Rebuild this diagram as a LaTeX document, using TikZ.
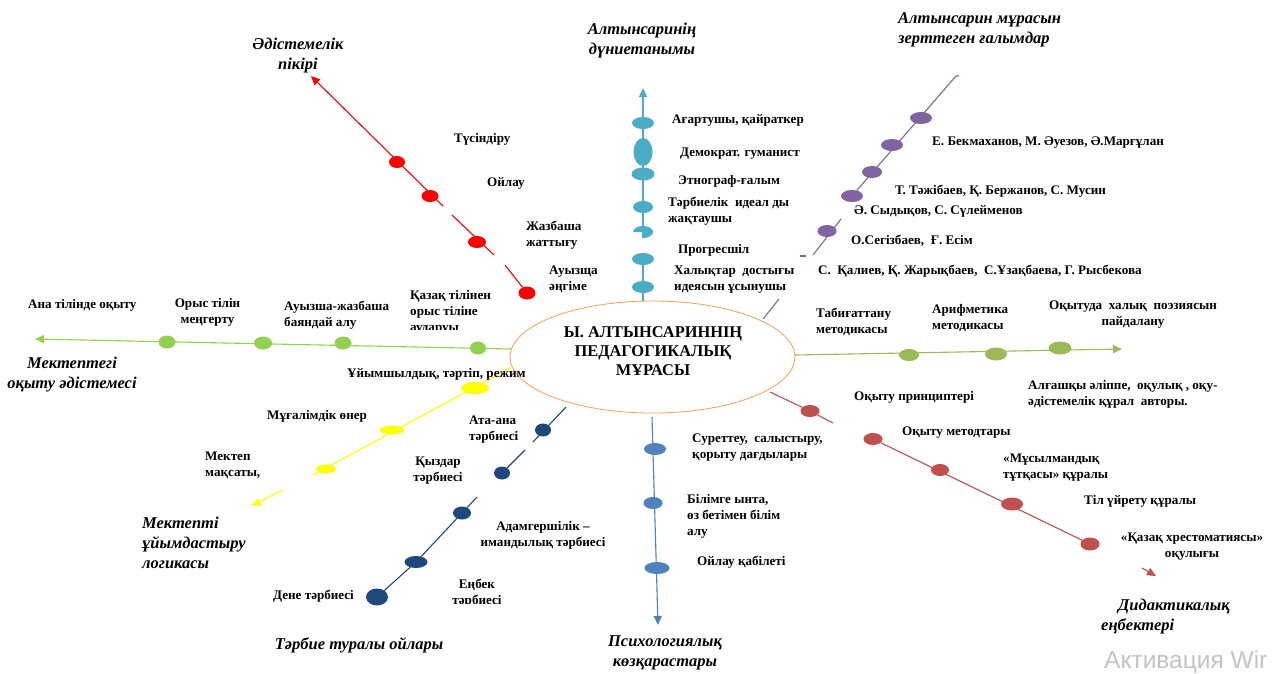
\documentclass[tikz,border=0pt]{standalone}
\usepackage{fontspec}
\setmainfont{Liberation Serif}
\newfontfamily\wmfamily{Liberation Sans}
\usetikzlibrary{shapes.geometric,arrows.meta}
\definecolor{cyn}{HTML}{4BACC6}
\definecolor{rd}{HTML}{FF0000}
\definecolor{prp}{HTML}{8064A2}
\definecolor{grl}{HTML}{92D050}
\definecolor{grr}{HTML}{9BBB59}
\definecolor{rbr}{HTML}{C0504D}
\definecolor{lbl}{HTML}{4F81BD}
\definecolor{dbl}{HTML}{1F497D}
\definecolor{ylw}{HTML}{FFFF00}
\definecolor{org}{HTML}{F5A05E}
\definecolor{wmgray}{HTML}{C4C4C4}
\newcommand\lblfont{\fontsize{13.1}{16}\selectfont\bfseries}
\newcommand\ttlfont{\fontsize{16.5}{20}\selectfont\bfseries\itshape}
\newcommand\ctrfont{\fontsize{16.4}{19}\selectfont\bfseries}
\tikzset{
  dot/.style={ellipse, inner sep=0pt, outer sep=0pt},
  dsz/.style n args={2}{minimum width=#1pt, minimum height=#2pt},
  lab/.style={font=\lblfont, inner sep=0pt, anchor=west, align=left},
  labc/.style={font=\lblfont, inner sep=0pt, align=center},
  ttl/.style={font=\ttlfont, inner sep=0pt, align=center},
  ttll/.style={font=\ttlfont, inner sep=0pt, align=left, anchor=west},
  ln/.style={line width=1.1pt},
  arr/.style={ln, -{Triangle[length=9pt,width=8pt]}},
}
\begin{document}
\begin{tikzpicture}[x=1pt,y=-1pt]
\useasboundingbox[fill=white] (0,0) rectangle (1279,673);

% ---------- centre ----------
\node[ellipse, draw=org, line width=0.8pt, minimum width=285pt, minimum height=112pt, inner sep=0pt] (her) at (652.5,357) {};
\node[font=\ctrfont, align=center, inner sep=0pt] (hertext) at (653,351) {Ы. АЛТЫНСАРИННІҢ\\ПЕДАГОГИКАЛЫҚ\\МҰРАСЫ};

% ---------- cyan (top) ----------
\node[dot, fill=cyn, dsz={22}{12}] (c1) at (643,123) {};
\node[dot, fill=cyn, dsz={19}{28}] (c2) at (643,152) {};
\node[dot, fill=cyn, dsz={23}{13}] (c3) at (643,174) {};
\node[dot, fill=cyn, dsz={20}{12}] (c4) at (643,207) {};
\coordinate (c5) at (643,232);
\fill[cyn] (c5) -- ++(-10,0) arc[start angle=180, end angle=-90, x radius=10pt, y radius=6pt] -- cycle;
\node[dot, fill=cyn, dsz={22}{12}] (c6) at (643,259) {};
\node[dot, fill=cyn, dsz={22}{12}] (c7) at (643,287) {};
\coordinate (cbase) at (643,301);
\coordinate (cgap) at (643,238);
\coordinate (ctip) at (643,88);
\draw[ln, cyn] (cbase) -- (c7) -- (c6);
\draw[arr, cyn] (cgap) -- (ctip);
\node[ttl] (cttl) at (642,41) {Алтынсаринің\\дүниетанымы};
\node[lab] (cl1) at (672,120) {Ағартушы, қайраткер};
\node[lab] (cl2) at (680,154) {Демократ. гуманист};
\node[lab] (cl3) at (678,181) {Этнограф-ғалым};
\node[lab] (cl4) at (668,211.5) {Тәрбиелік\ \ идеал ды\\жақтаушы};
\node[lab] (cl5) at (678,250) {Прогресшіл};
\begin{scope}
\clip (660,255) rectangle (900,293);
\node[lab] (cl6) at (674,280) {Халықтар\ \ достығы\\идеясын ұсынушы};
\end{scope}

% ---------- red (upper left) ----------
\node[dot, fill=rd, dsz={16}{12}] (r1) at (397,162) {};
\node[dot, fill=rd, dsz={17}{12}] (r2) at (430,196) {};
\node[dot, fill=rd, dsz={18}{12}] (r3) at (477,242) {};
\node[dot, fill=rd, dsz={17}{13}] (r4) at (527,293) {};
\coordinate (rtip) at (311,76);
\coordinate (rg1) at (443,206);
\coordinate (rg2) at (452,215);
\coordinate (rg3) at (494,255);
\coordinate (rg4) at (505,265);
\draw[arr, rd] (rg1) -- (rtip);
\draw[ln, rd] (rg2) -- (rg3);
\draw[ln, rd] (rg4) -- (r4);
\node[ttl] (rttl) at (298,55.5) {Әдістемелік\\пікірі};
\node[lab] (rl1) at (454,139) {Түсіндіру};
\node[lab] (rl2) at (487,183) {Ойлау};
\node[lab] (rl3) at (526,235) {Жазбаша\\жаттығу};
\node[lab] (rl4) at (549,279) {Ауызща\\әңгіме};

% ---------- purple (upper right) ----------
\node[dot, fill=prp, dsz={22}{12}] (p1) at (921,118) {};
\node[dot, fill=prp, dsz={22}{12}] (p2) at (892,145) {};
\node[dot, fill=prp, dsz={20}{12}] (p3) at (872,172) {};
\node[dot, fill=prp, dsz={22}{12}] (p4) at (852,196) {};
\node[dot, fill=prp, dsz={19}{12}] (p5) at (827,231) {};
\coordinate (pa) at (763,319);
\coordinate (pb) at (779,299);
\coordinate (pc) at (800,256);
\coordinate (pd) at (806,256);
\coordinate (pe) at (813,255);
\coordinate (pf) at (841,219);
\coordinate (ptop) at (956,76);
\coordinate (ptick) at (959,76);
\draw[ln, prp] (pa) -- (pb);
\draw[ln, prp] (pc) -- (pd);
\draw[ln, prp] (pe) -- (pf);
\draw[ln, prp] (p4) -- (ptop) -- (ptick);
\node[ttll] (pttl) at (898,29.5) {Алтынсарин мұрасын\\зерттеген ғалымдар};
\node[lab] (pl1) at (932,143) {Е. Бекмаханов, М. Әуезов, Ә.Марғұлан};
\node[lab] (pl2) at (895,191) {Т. Тәжібаев, Қ. Бержанов, С. Мусин};
\node[lab] (pl3) at (854,211) {Ә. Сыдықов, С. Сүлейменов};
\node[lab] (pl4) at (851,241) {О.Сегізбаев,\ \ Ғ. Есім};
\node[lab] (pl5) at (818,271) {С.\ \ Қалиев, Қ. Жарықбаев,\ \ С.Ұзақбаева, Г. Рысбекова};

% ---------- green left ----------
\node[dot, fill=grl, dsz={17}{13}] (gl1) at (167,342) {};
\node[dot, fill=grl, dsz={18}{13}] (gl2) at (263,343) {};
\node[dot, fill=grl, dsz={17}{13}] (gl3) at (343,343) {};
\node[dot, fill=grl, dsz={16}{13}] (gl4) at (478,348) {};
\coordinate (gls) at (511,349);
\coordinate (gltip) at (35,339);
\draw[arr, grl] (gls) -- (gltip);
\node[ttl] (glttl) at (72,375) {Мектептегі\\оқыту әдістемесі};
\node[lab] (gll1) at (28,305) {Ана тілінде оқыту};
\node[labc] (gll2) at (207.5,312) {Орыс тілін\\меңгерту};
\begin{scope}
\clip (270,290) rectangle (400,328);
\node[lab] (gll3) at (284,315.5) {Ауызша-жазбаша\\баяндай алу};
\end{scope}
\begin{scope}
\clip (400,280) rectangle (510,329);
\node[lab] (gll4) at (410,312) {Қазақ тілінен\\орыс тіліне\\аударуы};
\end{scope}

% ---------- green right ----------
\node[dot, fill=grr, dsz={20}{12}] (gr1) at (909,355) {};
\node[dot, fill=grr, dsz={22}{13}] (gr2) at (996,354) {};
\node[dot, fill=grr, dsz={23}{13}] (gr3) at (1060,348) {};
\coordinate (grs) at (795,355);
\coordinate (grtip) at (1122,349);
\draw[arr, grr] (grs) -- (grtip);
\node[lab] (grl1) at (816,322) {Табиғаттану\\методикасы};
\node[lab] (grl2) at (932,318.5) {Арифметика\\методикасы};
\node[labc] (grl3) at (1133,314.5) {Оқытуда\ \ халық\ \ поэзиясын\\пайдалану};
\node[lab] (grl4) at (1028,394) {Алғашқы әліппе,\ \ оқулық , оқу-\\әдістемелік құрал\ \ авторы.};

% ---------- red-brown (lower right) ----------
\node[dot, fill=rbr, dsz={19}{12}] (rb1) at (810,411) {};
\node[dot, fill=rbr, dsz={19}{12}] (rb2) at (873,439) {};
\node[dot, fill=rbr, dsz={18}{12}] (rb3) at (940,470) {};
\node[dot, fill=rbr, dsz={22}{13}] (rb4) at (1012,504) {};
\node[dot, fill=rbr, dsz={19}{13}] (rb5) at (1090,544) {};
\coordinate (rbs) at (770,392);
\coordinate (rbe) at (833,423);
\coordinate (rbas) at (1142,568);
\coordinate (rbtip) at (1156,576);
\draw[ln, rbr] (rbs) -- (rb1) -- (rbe);
\draw[ln, rbr] (rb2) -- (rb5);
\draw[arr, rbr] (rbas) -- (rbtip);
\node[ttll] (rbttl) at (1101,617) {\hspace*{17pt}Дидактикалық\\еңбектері};
\node[lab] (rbl1) at (854,397) {Оқыту принциптері};
\node[lab] (rbl2) at (902,433) {Оқыту методтары};
\node[lab] (rbl3) at (1003,468) {«Мұсылмандық\\тұтқасы» құралы};
\node[lab] (rbl4) at (1084,501) {Тіл үйрету құралы};
\node[labc] (rbl5) at (1192,546.5) {«Қазақ хрестоматиясы»\\оқулығы};

% ---------- light blue (bottom) ----------
\node[dot, fill=lbl, dsz={22}{12}] (lb1) at (655,449) {};
\node[dot, fill=lbl, dsz={19}{12}] (lb2) at (653,503) {};
\node[dot, fill=lbl, dsz={25}{12}] (lb3) at (657,568) {};
\coordinate (lbs) at (652,417);
\coordinate (lbtip) at (658,625);
\draw[arr, lbl] (lbs) -- (lbtip);
\node[ttl] (lbttl) at (665,653) {Психологиялық\\көзқарастары};
\node[lab] (lbl1) at (692,448) {Суреттеу,\ \ салыстыру,\\қорыту дағдылары};
\node[lab] (lbl2) at (687,516) {Білімге ынта,\\өз бетімен білім\\алу};
\node[lab] (lbl3) at (697,562) {Ойлау қабілеті};

% ---------- dark blue (lower left) ----------
\node[dot, fill=dbl, dsz={16}{13}] (db1) at (543,430) {};
\node[dot, fill=dbl, dsz={16}{13}] (db2) at (502,473) {};
\node[dot, fill=dbl, dsz={18}{13}] (db3) at (462,513) {};
\node[dot, fill=dbl, dsz={23}{12}] (db4) at (416,562) {};
\node[dot, fill=dbl, dsz={22}{17}] (db5) at (377,597) {};
\coordinate (dbs) at (566,407);
\coordinate (dbg1) at (533,442);
\coordinate (dbg2) at (525,450);
\coordinate (dbg3) at (477,497);
\draw[ln, dbl] (dbs) -- (dbg1);
\draw[ln, dbl] (dbg2) -- (db2);
\draw[ln, dbl] (dbg3) -- (db3) -- (db4) -- (db5);
\node[ttl] (dbttl) at (359,645) {Тәрбие туралы ойлары};
\node[lab] (dbl1) at (469,430) {Ата-ана\\тәрбиесі};
\node[labc] (dbl2) at (438,470.5) {Қыздар\\тәрбиесі};
\node[labc] (dbl3) at (543,535.5) {Адамгершілік –\\имандылық тәрбиесі};
\begin{scope}
\clip (430,570) rectangle (530,603);
\node[labc] (dbl4) at (477,593.5) {Еңбек\\тәрбиесі};
\end{scope}
\node[lab] (dbl5) at (273,596) {Дене тәрбиесі};

% ---------- yellow (left-down) ----------
\node[dot, fill=ylw, dsz={28}{12}] (y1) at (475,388) {};
\node[dot, fill=ylw, dsz={24}{9}] (y2) at (392,430) {};
\node[dot, fill=ylw, dsz={20}{9}] (y3) at (326,469) {};
\coordinate (ys) at (512,367);
\coordinate (ye) at (313,475);
\coordinate (yas) at (282,490);
\coordinate (ytip) at (252,506);
\draw[ln, ylw] (ys) -- (ye);
\draw[arr, ylw] (yas) -- (ytip);
\node[ttll] (yttl) at (142,542.5) {Мектепті\\ұйымдастыру\\логикасы};
\node[lab] (yl1) at (347,374) {Ұйымшылдық, тәртіп, режим};
\node[lab] (yl2) at (267,416) {Мұғалімдік өнер};
\node[lab] (yl3) at (205,465.5) {Мектеп\\мақсаты,};

% ---------- watermark ----------
\node[font=\wmfamily\fontsize{24.5}{24.5}\selectfont, text=wmgray, anchor=west, inner sep=0pt] (wm) at (1104,662) {Активация Wir};
\end{tikzpicture}
\end{document}
